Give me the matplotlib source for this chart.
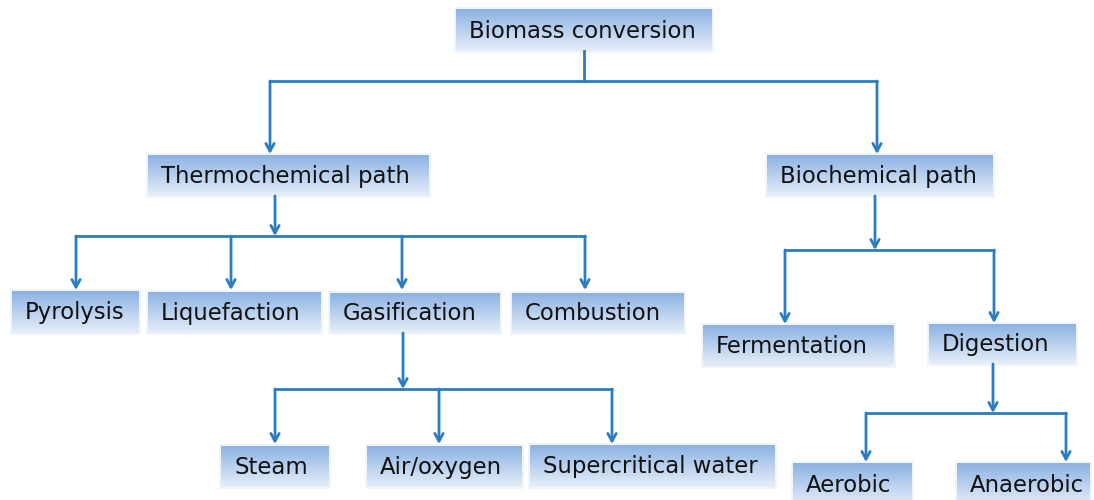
import numpy as np
import matplotlib.pyplot as plt
from matplotlib.colors import LinearSegmentedColormap

# node labels
labels = ['Biomass conversion', 'Thermochemical path', 'Biochemical path',
          'Pyrolysis', 'Liquefaction', 'Gasification', 'Combustion',
          'Fermentation', 'Digestion', 'Steam', 'Air/oxygen',
          'Supercritical water', 'Aerobic', 'Anaerobic']

# box layout in pixels (left, right, top, bottom)
box_left = [456, 148, 767, 12, 148, 330, 512, 703, 929, 221, 367, 530, 793, 957]
box_right = [712, 429, 993, 139, 321, 500, 684, 894, 1076, 329, 522, 775, 912, 1090]
box_top = [9, 155, 155, 291, 292, 293, 293, 325, 324, 446, 446, 445, 463, 463]
box_bot = [51, 196, 196, 333, 333, 333, 333, 366, 364, 487, 487, 487, 506, 506]

# branch layout: stem x, stem start y, bus y, arrow on stem, child xs, child top ys
stem_x = [584, 275, 403, 875, 993]
stem_y0 = [51, 196, 333, 196, 364]
bus_y = [81, 236, 389, 250, 413]
stem_arrow = [False, True, True, True, True]
child_x = [[270, 877], [76, 231, 402, 585], [275, 439, 612], [785, 994], [866, 1066]]
child_y = [[155, 155], [291, 291, 291, 291], [445, 445, 445], [325, 324], [463, 463]]

line_col = '#2b7cc0'
cmap = LinearSegmentedColormap.from_list('box', ['#8db3e3', '#e6eef9'])

fig = plt.figure(figsize=(10.94, 5), dpi=100)
ax = fig.add_axes([0, 0, 1, 1])

grad = np.linspace(0, 1, 64).reshape(-1, 1)
for lab, l, r, t, b in zip(labels, box_left, box_right, box_top, box_bot):
    # faint glow around box
    ax.add_patch(plt.Rectangle((l - 2, t - 2), r - l + 4, b - t + 4,
                               facecolor='#f1f5fb', edgecolor='none', zorder=1))
    ax.imshow(grad, extent=(l, r, b, t), aspect='auto', cmap=cmap,
              origin='upper', zorder=2)
    ax.text(l + 13, (t + b) / 2 + 1, lab, fontsize=16.4, family='DejaVu Sans',
            color='#111111', ha='left', va='center', zorder=3)

arrow_kw = dict(arrowstyle='->,head_length=0.55,head_width=0.3',
                color=line_col, lw=2, shrinkA=0, shrinkB=0)

for sx, sy, by, sa, cxs, cys in zip(stem_x, stem_y0, bus_y, stem_arrow, child_x, child_y):
    if sa:
        ax.annotate('', xy=(sx, by), xytext=(sx, sy), arrowprops=arrow_kw, zorder=4)
    else:
        ax.plot([sx, sx], [sy, by], color=line_col, lw=2, zorder=4)
    ax.plot([min(cxs), max(cxs)], [by, by], color=line_col, lw=2,
            solid_capstyle='round', zorder=4)
    for cx, cy in zip(cxs, cys):
        ax.annotate('', xy=(cx, cy - 1), xytext=(cx, by), arrowprops=arrow_kw, zorder=4)

ax.set_xlim(0, 1094)
ax.set_ylim(500, 0)
ax.axis('off')

fig.savefig('out.png', dpi=100)
